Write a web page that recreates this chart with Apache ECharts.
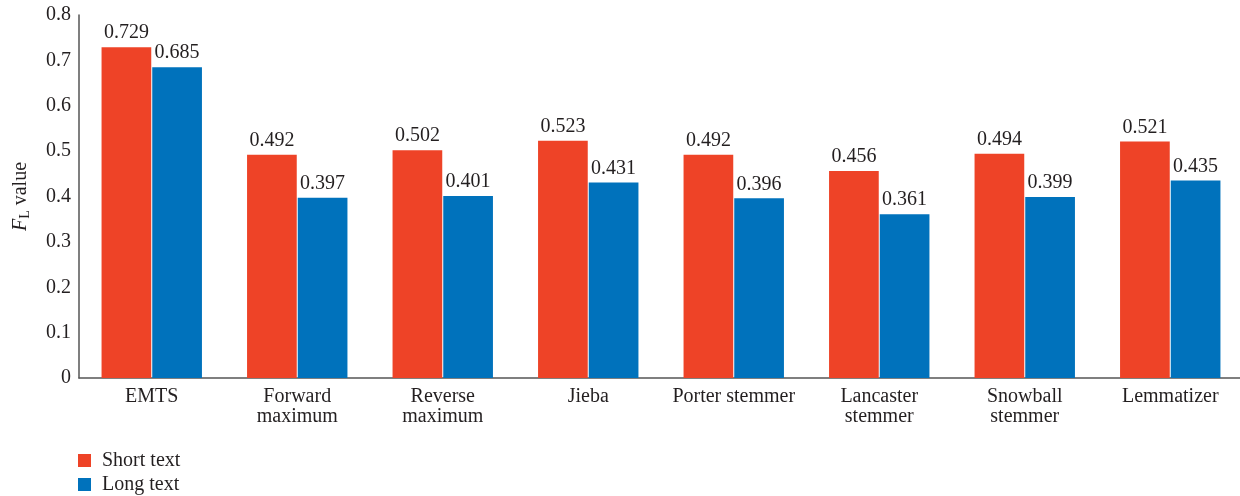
<!DOCTYPE html>
<html>
<head>
<meta charset="utf-8">
<script src="https://cdn.jsdelivr.net/npm/echarts@6/dist/echarts.min.js"></script>
<style>
  html, body { margin: 0; padding: 0; background: #ffffff; }
  #chart { width: 1240px; height: 496px; }
</style>
</head>
<body>
<div id="chart"></div>
<script>
// Segmentation methods compared
const categories = ['EMTS', 'Forward\nmaximum', 'Reverse\nmaximum', 'Jieba', 'Porter stemmer', 'Lancaster\nstemmer', 'Snowball\nstemmer', 'Lemmatizer'];
// F_L values for each text length
const shortText = [0.729, 0.492, 0.502, 0.523, 0.492, 0.456, 0.494, 0.521];
const longText = [0.685, 0.397, 0.401, 0.431, 0.396, 0.361, 0.399, 0.435];
const yTicks = [0, 0.1, 0.2, 0.3, 0.4, 0.5, 0.6, 0.7, 0.8];

const FONT = '"Liberation Serif", "DejaVu Serif", serif';
const TEXT = '#231f20';
const FS = 20;

const chart = echarts.init(document.getElementById('chart'), null, { renderer: 'canvas' });

const labelCfg = {
  show: true,
  position: 'top',
  distance: 4,
  color: TEXT,
  fontFamily: FONT,
  fontSize: FS,
  formatter: p => p.value.toFixed(3)
};

chart.setOption({
  animation: false,
  textStyle: { fontFamily: FONT },
  grid: { left: 79, right: -3, top: 15, bottom: 118, outerBoundsMode: 'none' },
  legend: {
    orient: 'vertical',
    left: 78,
    top: 450,
    padding: 0,
    itemWidth: 13,
    itemHeight: 13,
    itemGap: 3,
    icon: 'rect',
    textStyle: { color: TEXT, fontFamily: FONT, fontSize: FS, lineHeight: 21, padding: [0, 0, 0, 6] },
    data: ['Short text', 'Long text']
  },
  xAxis: {
    type: 'category',
    data: categories,
    axisLine: { lineStyle: { color: '#555555', width: 1.5 } },
    axisTick: { show: false },
    axisLabel: { color: TEXT, fontFamily: FONT, fontSize: FS, lineHeight: 20, margin: 9, interval: 0 }
  },
  yAxis: {
    type: 'value',
    min: 0,
    max: 0.8,
    interval: 0.1,
    name: '{i|F}{s|L} value',
    nameLocation: 'middle',
    nameGap: 47,
    nameRotate: 90,
    nameTextStyle: {
      color: TEXT,
      fontFamily: FONT,
      fontSize: FS,
      rich: {
        i: { fontStyle: 'italic', fontFamily: FONT, fontSize: FS, color: TEXT },
        s: { fontFamily: FONT, fontSize: 14, color: TEXT, verticalAlign: 'bottom', padding: [9, 0, 0, 0] }
      }
    },
    axisLine: { show: true, lineStyle: { color: '#555555', width: 1.5 } },
    axisTick: { show: false },
    splitLine: { show: false },
    axisLabel: {
      color: TEXT,
      fontFamily: FONT,
      fontSize: FS,
      margin: 8,
      formatter: v => {
        const t = yTicks.find(x => Math.abs(x - v) < 1e-9);
        return t === undefined ? '' : String(t);
      }
    }
  },
  series: [
    {
      name: 'Short text',
      type: 'bar',
      data: shortText,
      barGap: '2%',
      barCategoryGap: '31%',
      itemStyle: { color: '#ee4327' },
      label: labelCfg
    },
    {
      name: 'Long text',
      type: 'bar',
      data: longText,
      itemStyle: { color: '#0072bc' },
      label: labelCfg
    }
  ]
});
</script>
</body>
</html>
